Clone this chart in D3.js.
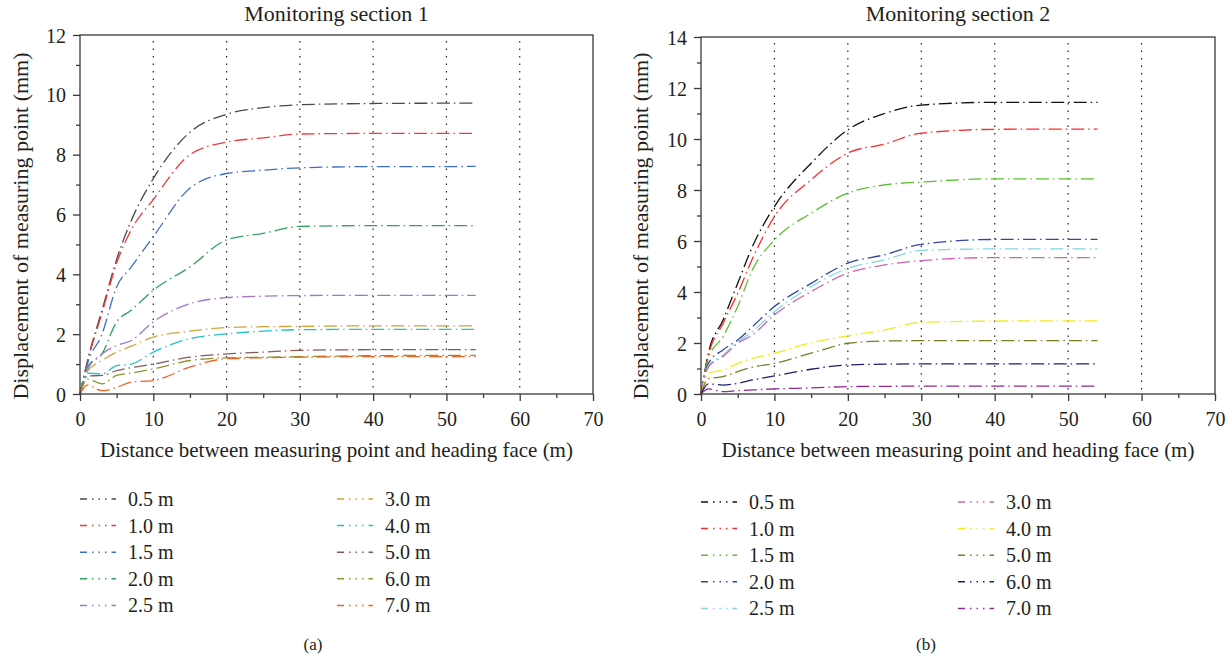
<!DOCTYPE html>
<html>
<head>
<meta charset="utf-8">
<script src="https://cdn.jsdelivr.net/npm/d3@7"></script>
<style>
  body { margin: 0; background: #fff; }
  svg text { font-family: "Liberation Serif", "Times New Roman", serif; fill: #231f20; }
</style>
</head>
<body>
<div id="chart"></div>
<script>
const width = 1232;
const height = 663;

// distance from heading face (m)
const distances = [0, 1, 3, 5, 7, 10, 15, 20, 25, 30, 40, 50, 54];
const depthLabels = ["0.5 m", "1.0 m", "1.5 m", "2.0 m", "2.5 m", "3.0 m", "4.0 m", "5.0 m", "6.0 m", "7.0 m"];
const xTicks = [0, 10, 20, 30, 40, 50, 60, 70];

// monitoring section 1
const sec1_05 = [0, 1.1, 2.8, 4.5, 5.8, 7.2, 8.75, 9.35, 9.57, 9.67, 9.71, 9.72, 9.72];
const sec1_10 = [0, 1.05, 2.7, 4.37, 5.49, 6.5, 8.0, 8.42, 8.56, 8.69, 8.71, 8.71, 8.71];
const sec1_15 = [0, 1.0, 2.0, 3.58, 4.25, 5.26, 6.88, 7.37, 7.48, 7.56, 7.6, 7.6, 7.61];
const sec1_20 = [0, 0.9, 1.34, 2.41, 2.8, 3.47, 4.25, 5.15, 5.37, 5.6, 5.63, 5.63, 5.63];
const sec1_25 = [0, 0.8, 1.34, 1.62, 1.79, 2.41, 3.02, 3.22, 3.27, 3.29, 3.3, 3.3, 3.3];
const sec1_30 = [0, 0.75, 1.12, 1.4, 1.6, 1.9, 2.1, 2.22, 2.25, 2.26, 2.28, 2.28, 2.28];
const sec1_40 = [0, 0.7, 0.67, 0.95, 1.0, 1.4, 1.85, 2.01, 2.1, 2.15, 2.16, 2.16, 2.16];
const sec1_50 = [0, 0.6, 0.62, 0.78, 0.88, 1.0, 1.23, 1.34, 1.4, 1.46, 1.48, 1.48, 1.48];
const sec1_60 = [0, 0.5, 0.34, 0.62, 0.7, 0.84, 1.12, 1.21, 1.23, 1.25, 1.28, 1.29, 1.29];
const sec1_70 = [0, 0.3, 0.11, 0.22, 0.4, 0.45, 0.9, 1.18, 1.21, 1.23, 1.25, 1.25, 1.25];

// monitoring section 2
const sec2_05 = [0, 1.6, 2.9, 4.34, 5.78, 7.35, 9.05, 10.36, 11.0, 11.33, 11.44, 11.44, 11.44];
const sec2_10 = [0, 1.5, 2.77, 3.95, 5.3, 6.96, 8.4, 9.45, 9.8, 10.23, 10.38, 10.39, 10.39];
const sec2_15 = [0, 1.4, 2.25, 3.43, 4.87, 6.04, 7.09, 7.88, 8.2, 8.31, 8.44, 8.44, 8.44];
const sec2_20 = [0, 1.2, 1.73, 2.12, 2.64, 3.43, 4.34, 5.13, 5.46, 5.87, 6.06, 6.06, 6.06];
const sec2_25 = [0, 1.1, 1.53, 2.05, 2.45, 3.23, 4.21, 4.93, 5.26, 5.63, 5.69, 5.69, 5.69];
const sec2_30 = [0, 1.05, 1.47, 1.99, 2.32, 3.1, 4.02, 4.74, 5.06, 5.23, 5.35, 5.35, 5.35];
const sec2_40 = [0, 0.8, 0.94, 1.2, 1.4, 1.6, 2.01, 2.28, 2.51, 2.81, 2.86, 2.87, 2.87];
const sec2_50 = [0, 0.6, 0.68, 0.88, 1.05, 1.2, 1.6, 1.99, 2.08, 2.09, 2.09, 2.09, 2.09];
const sec2_60 = [0, 0.4, 0.35, 0.42, 0.55, 0.71, 0.97, 1.14, 1.17, 1.18, 1.18, 1.18, 1.18];
const sec2_70 = [0, 0.2, 0.09, 0.13, 0.16, 0.2, 0.24, 0.29, 0.3, 0.31, 0.31, 0.31, 0.31];

const colours1 = ["#4a4a4a", "#f03a3a", "#3f6fc2", "#2fa35a", "#a374c9", "#d4a23a", "#27c0c8", "#875a5a", "#8f9332", "#f2611e"];
const colours2 = ["#111111", "#ff2a2a", "#5cbf30", "#3446a0", "#85d6e6", "#cf62b6", "#f2ea1e", "#7d7d22", "#1e1e6e", "#8f2a92"];

const svg = d3.select("#chart").append("svg")
    .attr("width", width)
    .attr("height", height);

function drawPanel(cfg) {
    const x = d3.scaleLinear().domain([0, 70]).range([cfg.left, cfg.right]);
    const y = d3.scaleLinear().domain([0, cfg.yMax]).range([cfg.bottom, cfg.top]);
    const g = svg.append("g");

    // dotted verticals
    g.selectAll(".grid")
        .data([10, 20, 30, 40, 50, 60])
        .enter().append("line")
        .attr("x1", d => x(d)).attr("x2", d => x(d))
        .attr("y1", cfg.top + 6).attr("y2", cfg.bottom)
        .attr("stroke", "#222").attr("stroke-width", 1.2)
        .attr("stroke-dasharray", "1.5,6");

    // curves
    const line = d3.line()
        .x((d, i) => x(distances[i]))
        .y(d => y(d))
        .curve(d3.curveMonotoneX);

    g.selectAll(".curve")
        .data(cfg.series)
        .enter().append("path")
        .attr("d", d => line(d))
        .attr("fill", "none")
        .attr("stroke", (d, i) => cfg.colours[i])
        .attr("stroke-width", 1.3)
        .attr("stroke-dasharray", "13,4,1.5,4");

    // frame
    g.append("rect")
        .attr("x", cfg.left).attr("y", cfg.top)
        .attr("width", cfg.right - cfg.left).attr("height", cfg.bottom - cfg.top)
        .attr("fill", "none").attr("stroke", "#3a3a3a").attr("stroke-width", 1.3);

    // x axis
    const xAxis = g.append("g")
        .attr("transform", "translate(0," + cfg.bottom + ")")
        .call(d3.axisBottom(x).tickValues(d3.range(0, 71, 5)).tickSize(6).tickFormat(d => d % 10 === 0 ? d : ""));
    xAxis.select(".domain").remove();
    xAxis.selectAll(".tick line").attr("stroke", "#3a3a3a").attr("stroke-width", 1.3)
        .attr("y2", d => d % 10 === 0 ? 7 : 4);
    xAxis.selectAll(".tick text").attr("dy", "0").attr("y", 32)
        .style("font-size", "20px").style("font-family", "'Liberation Serif', serif").attr("fill", "#231f20");

    // y axis
    const yAxis = g.append("g")
        .attr("transform", "translate(" + cfg.left + ",0)")
        .call(d3.axisLeft(y).tickValues(d3.range(0, cfg.yMax + 1, 1)).tickSize(6).tickFormat(d => d % 2 === 0 ? d : ""));
    yAxis.select(".domain").remove();
    yAxis.selectAll(".tick line").attr("stroke", "#3a3a3a").attr("stroke-width", 1.3)
        .attr("x2", d => d % 2 === 0 ? -7 : -4);
    yAxis.selectAll(".tick text").attr("x", -14).attr("dy", "0.35em")
        .style("font-size", "20px").style("font-family", "'Liberation Serif', serif").attr("fill", "#231f20");

    // titles
    g.append("text")
        .attr("x", (cfg.left + cfg.right) / 2).attr("y", 21)
        .attr("text-anchor", "middle").style("font-size", "22px")
        .text(cfg.title);
    g.append("text")
        .attr("x", (cfg.left + cfg.right) / 2).attr("y", 457)
        .attr("text-anchor", "middle").style("font-size", "21px")
        .text("Distance between measuring point and heading face (m)");
    g.append("text")
        .attr("transform", "translate(" + cfg.yLabelX + ",226) rotate(-90)")
        .attr("text-anchor", "middle").style("font-size", "22px")
        .text("Displacement of measuring point (mm)");

    // legend
    const leg = g.selectAll(".leg")
        .data(depthLabels)
        .enter().append("g")
        .attr("transform", (d, i) => "translate(" + (cfg.left + (i < 5 ? 0 : cfg.legendCol)) + "," + (cfg.legendTop + (i % 5) * 26.6) + ")");
    leg.append("line")
        .attr("x1", 0).attr("x2", 36).attr("y1", 0).attr("y2", 0)
        .attr("stroke", (d, i) => cfg.colours[i]).attr("stroke-width", 1.5)
        .attr("stroke-dasharray", "7,5,1.5,5,1.5,5,1.5,5");
    leg.append("text")
        .attr("x", 48).attr("y", 0).attr("dy", "0.35em")
        .style("font-size", "20px")
        .text(d => d);

    g.append("text")
        .attr("x", cfg.captionX).attr("y", 650)
        .attr("text-anchor", "middle").style("font-size", "17px")
        .text(cfg.caption);
}

drawPanel({
    left: 80, right: 593, top: 35, bottom: 394, yMax: 12,
    title: "Monitoring section 1",
    series: [sec1_05, sec1_10, sec1_15, sec1_20, sec1_25, sec1_30, sec1_40, sec1_50, sec1_60, sec1_70],
    colours: colours1, yLabelX: 28, legendTop: 499, legendCol: 257,
    caption: "(a)", captionX: 313
});

drawPanel({
    left: 701, right: 1215, top: 37, bottom: 394, yMax: 14,
    title: "Monitoring section 2",
    series: [sec2_05, sec2_10, sec2_15, sec2_20, sec2_25, sec2_30, sec2_40, sec2_50, sec2_60, sec2_70],
    colours: colours2, yLabelX: 648, legendTop: 502, legendCol: 257,
    caption: "(b)", captionX: 926
});
</script>
</body>
</html>
